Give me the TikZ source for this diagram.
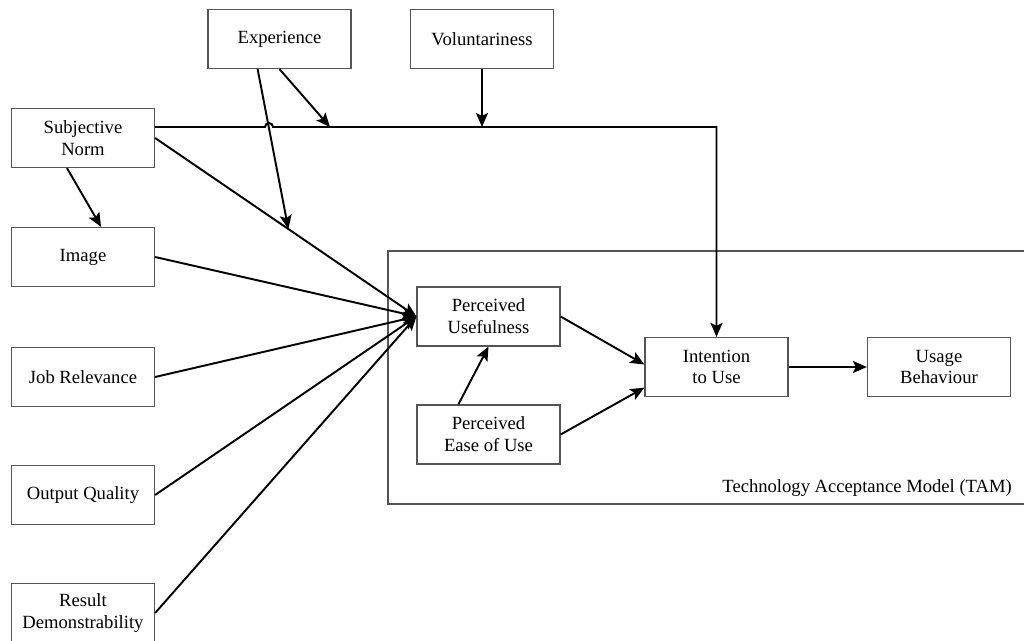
\documentclass[tikz,border=0pt]{standalone}
\usepackage{fontspec}
\setmainfont{Liberation Serif}
\usetikzlibrary{arrows.meta,calc}
\definecolor{tamgray}{RGB}{85,85,85}
\tikzset{
  box/.style={draw=tamgray, line width=0.7pt, minimum width=2.86cm, minimum height=1.18cm,
    inner sep=1pt, align=center, font=\fontsize{10.6}{12.4}\selectfont},
  conn/.style={line width=1.1pt, -{Stealth[length=2.8mm,width=2.4mm,inset=0.6mm]}}
}

\begin{document}
\begin{tikzpicture}[x=0.02cm,y=-0.02cm]
\useasboundingbox (0,0) rectangle (1024,641);

% TAM frame
\draw[draw=tamgray, line width=0.7pt] (388,251) rectangle (1040,504);
\node[anchor=east, font=\fontsize{10.6}{12.4}\selectfont] (tamlabel) at (1018,488) {Technology Acceptance Model (TAM)};

% External variables
\node[box] (exp) at (279.5,39) {Experience};
\node[box] (vol) at (482,39) {Voluntariness};
\node[box] (sn) at (83,138) {Subjective\\Norm};
\node[box] (img) at (83,257) {Image};
\node[box] (job) at (83,377) {Job Relevance};
\node[box] (out) at (83,495) {Output Quality};
\node[box] (res) at (83,613) {Result\\Demonstrability};

% TAM constructs
\node[box] (pu) at (488.5,316.5) {Perceived\\Usefulness};
\node[box] (peou) at (488.5,434.5) {Perceived\\Ease of Use};
\node[box] (int) at (716.5,367) {Intention\\to Use};
\node[box] (use) at (939,367) {Usage\\Behaviour};

% Inputs to perceived usefulness
\draw[conn] (sn.east) -- coordinate[pos=0.51] (snpu) (pu.west);
\draw[conn] (img.east) -- (pu.west);
\draw[conn] (job.east) -- (pu.west);
\draw[conn] (out.east) -- (pu.west);
\draw[conn] (res.east) -- (pu.west);
\draw[conn] (sn.242) -- (img.59);

% Subjective norm to intention, with a hop
\coordinate (hopL) at (265,127);
\coordinate (exphit) at (330,127);
\coordinate (volhit) at (vol.south |- hopL);
\draw[conn] (sn.east |- hopL) -- (hopL) arc[start angle=180, end angle=0, radius=0.08cm]
  -- (int.north |- hopL) -- (int.north);

% Moderators
\draw[conn] (exp.south) -- (exphit);
\draw[conn] (exp.234) -- (snpu);
\draw[conn] (vol.south) -- (volhit);

% Inside TAM
\draw[conn] (peou.135) -- (pu.south);
\draw[conn] (pu.east) -- (int.178);
\draw[conn] (peou.east) -- (int.196);
\draw[conn] (int.east) -- (use.west);
\end{tikzpicture}
\end{document}
